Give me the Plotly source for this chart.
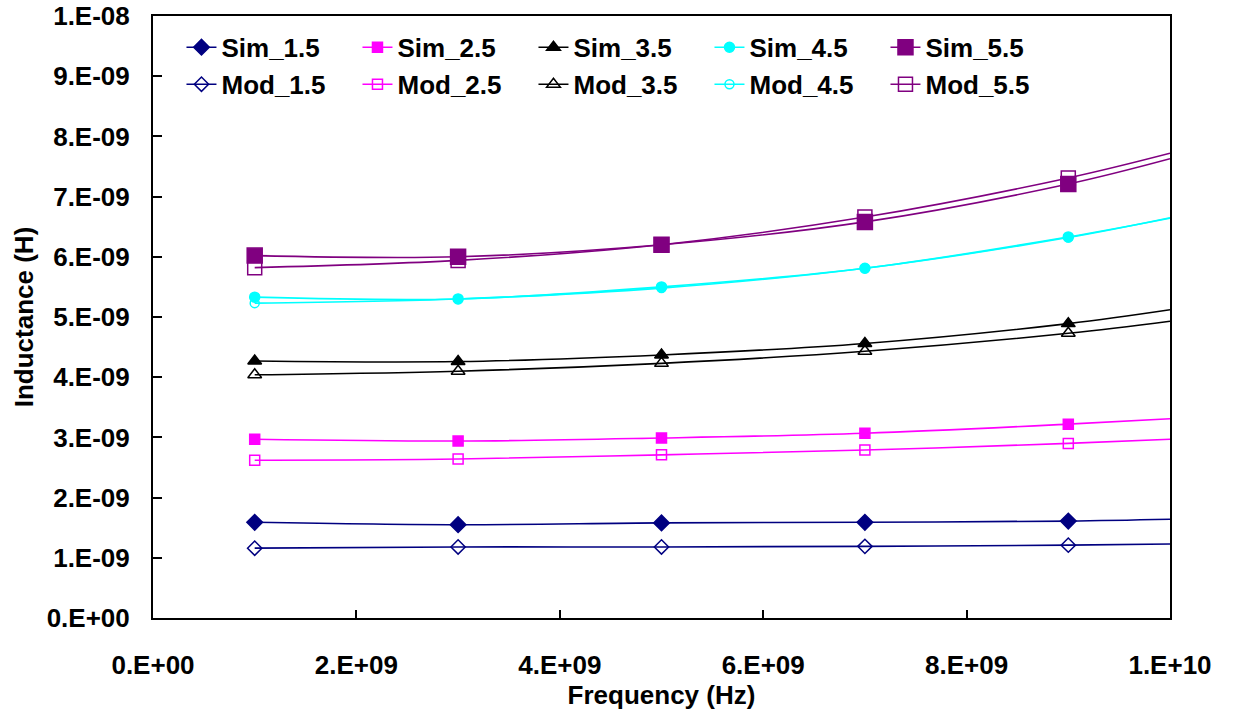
import plotly.graph_objects as go

# ---- data ----
freq = [1e9, 3e9, 5e9, 7e9, 9e9, 1e10]          # last point: curve end (no marker)
sim_1_5 = [1.59e-9, 1.55e-9, 1.58e-9, 1.59e-9, 1.61e-9, 1.64e-9]
mod_1_5 = [1.16e-9, 1.18e-9, 1.18e-9, 1.19e-9, 1.21e-9, 1.23e-9]
sim_2_5 = [2.97e-9, 2.94e-9, 2.99e-9, 3.07e-9, 3.22e-9, 3.31e-9]
mod_2_5 = [2.62e-9, 2.64e-9, 2.71e-9, 2.79e-9, 2.90e-9, 2.97e-9]
sim_3_5 = [4.27e-9, 4.26e-9, 4.37e-9, 4.56e-9, 4.89e-9, 5.12e-9]
mod_3_5 = [4.04e-9, 4.10e-9, 4.23e-9, 4.43e-9, 4.73e-9, 4.93e-9]
sim_4_5 = [5.33e-9, 5.30e-9, 5.50e-9, 5.81e-9, 6.33e-9, 6.64e-9]
mod_4_5 = [5.23e-9, 5.30e-9, 5.48e-9, 5.81e-9, 6.32e-9, 6.65e-9]
sim_5_5 = [6.02e-9, 6.00e-9, 6.20e-9, 6.58e-9, 7.21e-9, 7.63e-9]
mod_5_5 = [5.82e-9, 5.94e-9, 6.20e-9, 6.66e-9, 7.31e-9, 7.72e-9]

x_tickvals = [0, 2e9, 4e9, 6e9, 8e9, 1e10]
x_ticktext = ["0.E+00", "2.E+09", "4.E+09", "6.E+09", "8.E+09", "1.E+10"]
y_tickvals = [0, 1e-9, 2e-9, 3e-9, 4e-9, 5e-9, 6e-9, 7e-9, 8e-9, 9e-9, 1e-8]
y_ticktext = ["0.E+00", "1.E-09", "2.E-09", "3.E-09", "4.E-09", "5.E-09",
              "6.E-09", "7.E-09", "8.E-09", "9.E-09", "1.E-08"]

FONT = "Liberation Sans, Arial, sans-serif"
FS = 26

series = [
    ("Sim_1.5", sim_1_5, "#000080", "diamond", 12, "legend"),
    ("Sim_2.5", sim_2_5, "#FF00FF", "square", 10, "legend"),
    ("Sim_3.5", sim_3_5, "#000000", "triangle-up", 12, "legend"),
    ("Sim_4.5", sim_4_5, "#00FFFF", "circle", 10, "legend"),
    ("Sim_5.5", sim_5_5, "#800080", "square", 15, "legend"),
    ("Mod_1.5", mod_1_5, "#000080", "diamond-open", 11, "legend2"),
    ("Mod_2.5", mod_2_5, "#FF00FF", "square-open", 10, "legend2"),
    ("Mod_3.5", mod_3_5, "#000000", "triangle-up-open", 12, "legend2"),
    ("Mod_4.5", mod_4_5, "#00FFFF", "circle-open", 9, "legend2"),
    ("Mod_5.5", mod_5_5, "#800080", "square-open", 14, "legend2"),
]

fig = go.Figure()
for name, ys, col, sym, sz, lg in series:
    # smooth curve through all points
    fig.add_trace(go.Scatter(x=freq, y=ys, mode="lines", showlegend=False,
                             line=dict(color=col, width=1.6, shape="spline", smoothing=1),
                             hoverinfo="skip"))
    # markers on measured points
    fig.add_trace(go.Scatter(x=freq[:5], y=ys[:5], mode="markers", showlegend=False,
                             marker=dict(symbol=sym, size=sz, color=col,
                                         line=dict(color=col, width=1.5)),
                             name=name))
    # legend entry
    fig.add_trace(go.Scatter(x=[None], y=[None], mode="lines+markers", name=name,
                             legend=lg,
                             line=dict(color=col, width=1.6),
                             marker=dict(symbol=sym, size=sz, color=col,
                                         line=dict(color=col, width=1.5))))

legend_common = dict(orientation="h", xanchor="left", yanchor="middle",
                     bgcolor="rgba(0,0,0,0)", borderwidth=0,
                     entrywidth=131, entrywidthmode="pixels",
                     font=dict(family=FONT, size=FS, color="black", weight="bold"))

fig.update_layout(
    width=1233, height=715,
    margin=dict(l=153, r=63, t=16, b=97, autoexpand=False),
    paper_bgcolor="white", plot_bgcolor="white",
    font=dict(family=FONT, size=FS, color="black", weight="bold"),
    legend=dict(x=0.028, y=0.948, **legend_common),
    legend2=dict(x=0.028, y=0.8865, **legend_common),
    xaxis=dict(range=[0, 1e10], tickvals=x_tickvals, ticktext=x_ticktext,
               automargin=False,
               showgrid=False, zeroline=False,
               showline=True, linecolor="black", linewidth=2, mirror=True,
               ticks="inside", ticklen=8, tickwidth=1.5, tickcolor="black",
               ticklabelstandoff=23, ticklabeloverflow="allow",
               tickfont=dict(family=FONT, size=FS, color="black", weight="bold"),
               title=dict(text="Frequency (Hz)", standoff=3,
                          font=dict(family=FONT, size=FS, color="black", weight="bold"))),
    yaxis=dict(range=[0, 1e-8], tickvals=y_tickvals, ticktext=y_ticktext,
               automargin=False,
               showgrid=False, zeroline=False,
               showline=True, linecolor="black", linewidth=2, mirror=True,
               ticks="inside", ticklen=9, tickwidth=1.5, tickcolor="black",
               ticklabelstandoff=16, ticklabeloverflow="allow",
               tickfont=dict(family=FONT, size=FS, color="black", weight="bold"),
               title=dict(text="Inductance (H)", standoff=6,
                          font=dict(family=FONT, size=FS, color="black", weight="bold"))),
)

# remove the default 8px page margin so the figure fills the window exactly
fig.write_html("out.html", config={"displayModeBar": False},
               post_script="document.body.style.margin='0';document.body.style.overflow='hidden';")
